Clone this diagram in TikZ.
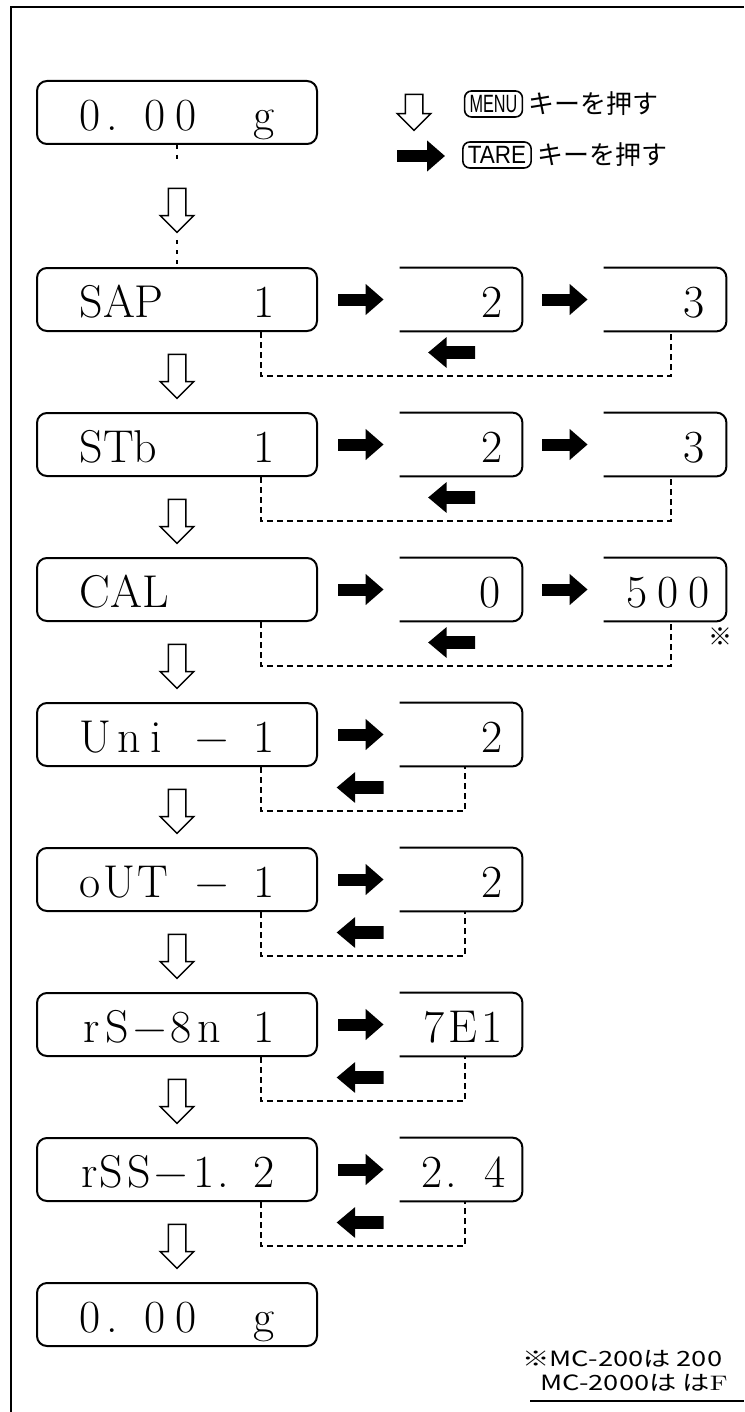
\documentclass[tikz,border=0pt]{standalone}
\usepackage{fontspec}
\usepackage{graphicx}
\usetikzlibrary{arrows.meta,shapes.arrows,calc}
\newfontfamily\jpfont{Noto Sans CJK JP}
\newfontfamily\lsans{Liberation Sans}
\begin{document}
\begin{tikzpicture}[x=0.5pt,y=-0.5pt,
  mainbox/.style={draw, line width=1pt, rounded corners=5pt, minimum width=140pt, minimum height=31.5pt, inner sep=0pt, text height=18pt, text depth=0pt, font=\fontsize{23}{26}\selectfont},
  openbox/.style={minimum width=61pt, minimum height=31.5pt, inner sep=0pt, text height=18pt, text depth=0pt, font=\fontsize{23}{26}\selectfont},
  obline/.style={line width=1pt, rounded corners=5pt},
  blk/.style={line width=6pt, -{Triangle[length=9pt,width=15pt]}, shorten <=10pt, shorten >=8pt},
  hol/.style={single arrow, draw, line width=0.75pt, shape border rotate=270, minimum height=22pt, inner sep=4pt, single arrow head extend=4pt, fill=white},
  lblk/.style={single arrow, fill=black, shape border rotate=180, minimum height=23.5pt, inner sep=3pt, single arrow head extend=4.5pt, single arrow tip angle=80},
  loopline/.style={line width=1pt, dash pattern=on 3pt off 2pt},
  dotline/.style={line width=1pt, dash pattern=on 2pt off 3pt},
  lbox/.style={draw, line width=0.8pt, rounded corners=3.5pt, font=\lsans\fontsize{12.5}{14}\selectfont, inner xsep=2.5pt, inner ysep=1.5pt, minimum height=13pt},
  jp/.style={font=\jpfont\fontsize{13}{15}\selectfont, inner sep=0pt},
  note/.style={font=\jpfont\fontsize{10.5}{12}\selectfont, inner sep=0pt, anchor=base west}
]
\useasboundingbox (0,0) rectangle (744,1412);
% frame
\draw[line width=1pt] (744,7) -- (11,7) -- (11,1412);
\draw[line width=1pt] (530,1401) -- (744,1401);

% legend
\node[hol, minimum height=18pt] (lh) at (414,108) {};
\node[lbox] (menu) at (493.5,104) {\scalebox{0.65}[1]{MENU}};
\node[jp, anchor=west] (mt) at ([xshift=2.5pt]menu.east) {キーを押す};
\coordinate (la) at (397,156);
\coordinate (lb) at (445,156);
\draw[blk, shorten <=0pt, shorten >=0pt] (la) -- (lb);
\node[lbox] (tare) at (497,155) {\scalebox{0.9}[1]{TARE}};
\node[jp, anchor=west] (tt) at ([xshift=2.5pt]tare.east) {キーを押す};

% main boxes
\node[mainbox] (r0) at (177,112.5) {\hbox to 97.5pt{0\hskip3pt.\hskip13pt 0\hskip5pt 0\hfill g}};
\node[mainbox] (r1) at (177,299.5) {\hbox to 97.5pt{SAP\hfill 1}};
\node[mainbox] (r2) at (177,444.5) {\hbox to 97.5pt{STb\hfill 1}};
\node[mainbox] (r3) at (177,589.5) {\hbox to 97.5pt{CAL\hfill}};
\node[mainbox] (r4) at (177,734.5) {\hbox to 97.5pt{U\hskip3pt n\hskip5pt i\hfill −\hskip12.5pt 1}};
\node[mainbox] (r5) at (177,879.5) {\hbox to 97.5pt{o\hskip1.5pt U\hskip1pt T\hfill −\hskip12.5pt 1}};
\node[mainbox] (r6) at (177,1024.5) {\hbox to 97.5pt{\hskip2pt r\hskip3pt S\hskip2pt −\hskip2pt 8\hskip3pt n\hfill 1}};
\node[mainbox] (r7) at (177,1169.5) {\hbox to 97.5pt{\hskip1pt r\hskip1pt S\hskip2pt S\hskip2pt −\hskip3pt 1\hskip1pt.\hfill 2}};
\node[mainbox] (r8) at (177,1314.5) {\hbox to 97.5pt{0\hskip3pt.\hskip13pt 0\hskip5pt 0\hfill g}};

% open boxes
\node[openbox] (r1b) at (461,299.5) {\hbox to 61pt{\hfill 2\hskip9.5pt}};
\node[openbox] (r1c) at (665,299.5) {\hbox to 61pt{\hfill 3\hskip10.5pt}};
\node[openbox] (r2b) at (461,444.5) {\hbox to 61pt{\hfill 2\hskip9.5pt}};
\node[openbox] (r2c) at (665,444.5) {\hbox to 61pt{\hfill 3\hskip10.5pt}};
\node[openbox] (r3b) at (461,589.5) {\hbox to 61pt{\hfill 0\hskip10.5pt}};
\node[openbox] (r3c) at (665,589.5) {\hbox to 61pt{\hfill 5\hskip5pt 0\hskip5pt 0\hskip8pt}};
\node[openbox] (r4b) at (461,734.5) {\hbox to 61pt{\hfill 2\hskip9.5pt}};
\node[openbox] (r5b) at (461,879.5) {\hbox to 61pt{\hfill 2\hskip9.5pt}};
\node[openbox] (r6b) at (461,1024.5) {\hbox to 61pt{\hfill 7\hskip2pt E\hskip2pt 1\hskip9.5pt}};
\node[openbox] (r7b) at (461,1169.5) {\hbox to 61pt{\hfill 2\hskip1.5pt.\hskip14pt 4\hskip8pt}};
\foreach \b in {r1b,r1c,r2b,r2c,r3b,r3c,r4b,r5b,r6b,r7b}
  \draw[obline] (\b.north west) -| (\b.south east) -- (\b.south west);

\node[font=\jpfont\fontsize{12}{14}\selectfont, inner sep=0pt] (ast) at (720,637) {※};

% right black arrows
\draw[blk] (r1.east) -- (r1b.west);
\draw[blk] (r1b.east) -- (r1c.west);
\draw[blk] (r2.east) -- (r2b.west);
\draw[blk] (r2b.east) -- (r2c.west);
\draw[blk] (r3.east) -- (r3b.west);
\draw[blk] (r3b.east) -- (r3c.west);
\draw[blk] (r4.east) -- (r4b.west);
\draw[blk] (r5.east) -- (r5b.west);
\draw[blk] (r6.east) -- (r6b.west);
\draw[blk] (r7.east) -- (r7b.west);

% return loops
\draw[loopline] ([xshift=-28.5pt]r1.south east) -- ++(0,44) -| ([xshift=3pt]r1c.south);
\draw[loopline] ([xshift=-28.5pt]r2.south east) -- ++(0,44) -| ([xshift=3pt]r2c.south);
\draw[loopline] ([xshift=-28.5pt]r3.south east) -- ++(0,44) -| ([xshift=3pt]r3c.south);
\draw[loopline] ([xshift=-28.5pt]r4.south east) -- ++(0,44) -| ([xshift=2pt]r4b.south);
\draw[loopline] ([xshift=-28.5pt]r5.south east) -- ++(0,44) -| ([xshift=2pt]r5b.south);
\draw[loopline] ([xshift=-28.5pt]r6.south east) -- ++(0,44) -| ([xshift=2pt]r6b.south);
\draw[loopline] ([xshift=-28.5pt]r7.south east) -- ++(0,44) -| ([xshift=2pt]r7b.south);

% left black arrows
\node[lblk] (l1) at (455.5,352.5) {};
\node[lblk] (l2) at (455.5,497.5) {};
\node[lblk] (l3) at (455.5,642.5) {};
\node[lblk] (l4) at (364,787.5) {};
\node[lblk] (l5) at (364,932.5) {};
\node[lblk] (l6) at (364,1077.5) {};
\node[lblk] (l7) at (364,1222.5) {};

% down arrows
\coordinate (d0) at (177,164);
\coordinate (d1) at (177,240);
\draw[dotline] (r0.south) -- (d0);
\draw[dotline] (d1) -- (r1.north);
\node[hol] (h0) at (177,206) {};
\node[hol] (h1) at ($(r1.south)!0.5!(r2.north)$) {};
\node[hol] (h2) at ($(r2.south)!0.5!(r3.north)$) {};
\node[hol] (h3) at ($(r3.south)!0.5!(r4.north)$) {};
\node[hol] (h4) at ($(r4.south)!0.5!(r5.north)$) {};
\node[hol] (h5) at ($(r5.south)!0.5!(r6.north)$) {};
\node[hol] (h6) at ($(r6.south)!0.5!(r7.north)$) {};
\node[hol] (h7) at ($(r7.south)!0.5!(r8.north)$) {};

% footnote
\node[note] (fn1) at (522,1366) {\scalebox{1.3}[1]{※MC-200は 200}};
\node[note] (fn2) at (540,1390) {\scalebox{1.3}[1]{MC-2000は は{\rmfamily F}}};
\end{tikzpicture}
\end{document}
